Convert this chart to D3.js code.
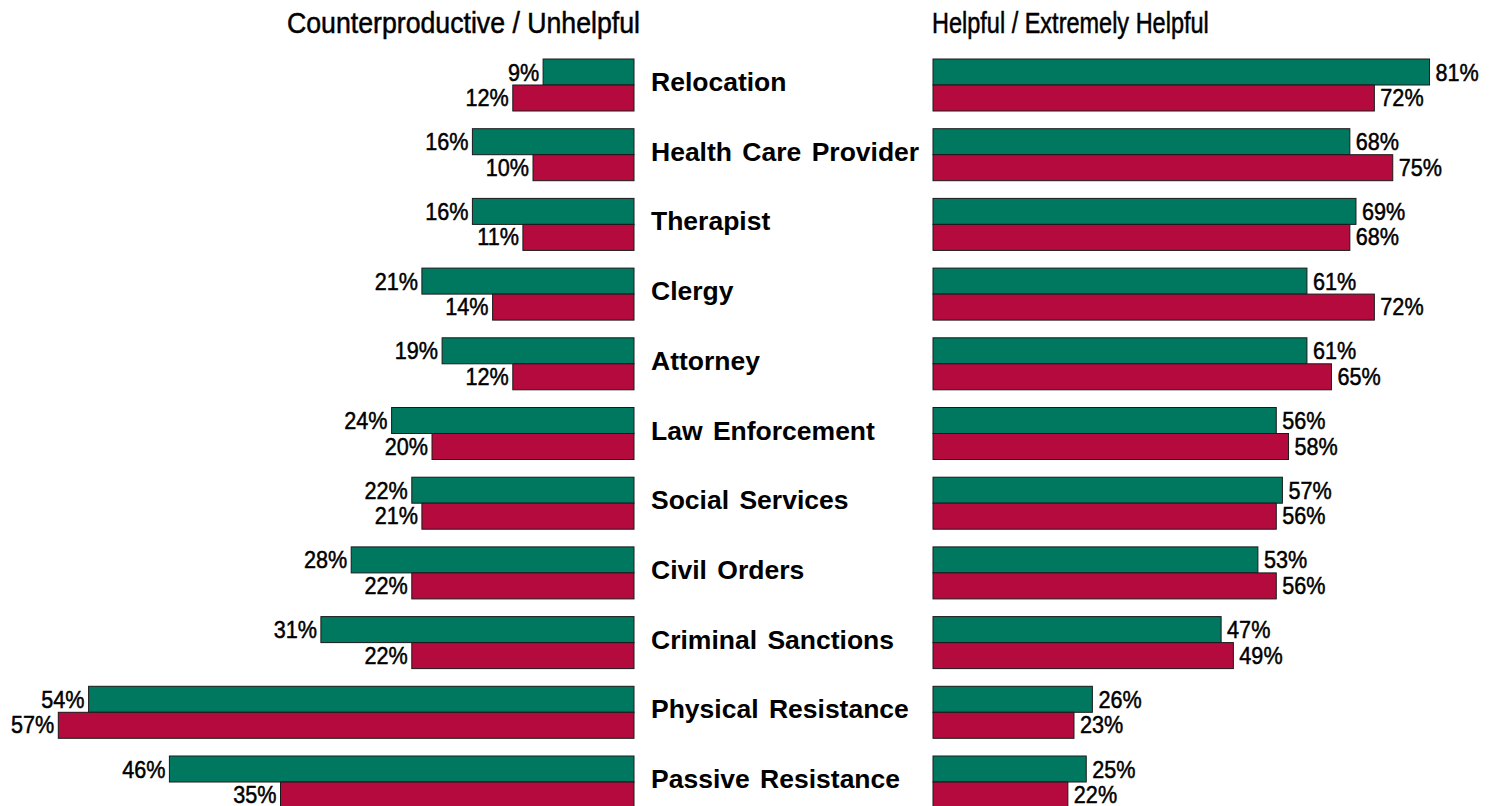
<!DOCTYPE html>
<html>
<head>
<meta charset="utf-8">
<script src="https://cdn.jsdelivr.net/npm/d3@7"></script>
<style>
  html, body { margin: 0; padding: 0; background: #fff; }
  svg { display: block; }
  .narrow { font-family: "Liberation Sans", Arial, sans-serif; stroke: #000; stroke-width: 0.5px; }
  .cat { font-family: "Liberation Sans", Arial, sans-serif; font-weight: bold; word-spacing: 3px; }
</style>
</head>
<body>
<svg id="chart" width="1497" height="806"></svg>
<script>
const categories = ["Relocation", "Health Care Provider", "Therapist", "Clergy", "Attorney",
  "Law Enforcement", "Social Services", "Civil Orders", "Criminal Sanctions",
  "Physical Resistance", "Passive Resistance"];
const unhelpfulGreen = [9, 16, 16, 21, 19, 24, 22, 28, 31, 54, 46];
const unhelpfulRed   = [12, 10, 11, 14, 12, 20, 21, 22, 22, 57, 35];
const helpfulGreen   = [81, 68, 69, 61, 61, 56, 57, 53, 47, 26, 25];
const helpfulRed     = [72, 75, 68, 72, 65, 58, 56, 56, 49, 23, 22];
const titles = ["Counterproductive / Unhelpful", "Helpful / Extremely Helpful"];

const GREEN = "#00785F", RED = "#B50A3E", STROKE = "#1a1a1a";
const svg = d3.select("#chart");

const y = d3.scalePoint().domain(categories).range([59, 756]);
const barH = 26;
const xL = d3.scaleLinear().domain([0, 100]).range([634, 634 - 1010]);
const xR = d3.scaleLinear().domain([0, 100]).range([933, 933 + 613]);

// compress glyphs horizontally to emulate a condensed face
function narrowize(factor) {
  return sel => sel.each(function () {
    const len = this.getComputedTextLength();
    d3.select(this).attr("textLength", len * factor).attr("lengthAdjust", "spacingAndGlyphs");
  });
}

// titles
svg.append("text").attr("class", "narrow").attr("x", 287).attr("y", 33)
  .attr("font-size", 29).attr("fill", "#000").text(titles[0]).call(narrowize(0.92));
svg.append("text").attr("class", "narrow").attr("x", 932).attr("y", 33)
  .attr("font-size", 29).attr("fill", "#000").text(titles[1]).call(narrowize(0.81));

const rows = categories.map((c, i) => ({
  cat: c, lg: unhelpfulGreen[i], lr: unhelpfulRed[i], rg: helpfulGreen[i], rr: helpfulRed[i]
}));

const g = svg.selectAll("g.row").data(rows).join("g").attr("class", "row");

// left bars
g.append("rect").attr("x", d => xL(d.lg)).attr("y", d => y(d.cat))
  .attr("width", d => xL(0) - xL(d.lg)).attr("height", barH)
  .attr("fill", GREEN).attr("stroke", STROKE).attr("stroke-width", 1);
g.append("rect").attr("x", d => xL(d.lr)).attr("y", d => y(d.cat) + barH)
  .attr("width", d => xL(0) - xL(d.lr)).attr("height", barH)
  .attr("fill", RED).attr("stroke", STROKE).attr("stroke-width", 1);

// right bars
g.append("rect").attr("x", xR(0)).attr("y", d => y(d.cat))
  .attr("width", d => xR(d.rg) - xR(0)).attr("height", barH)
  .attr("fill", GREEN).attr("stroke", STROKE).attr("stroke-width", 1);
g.append("rect").attr("x", xR(0)).attr("y", d => y(d.cat) + barH)
  .attr("width", d => xR(d.rr) - xR(0)).attr("height", barH)
  .attr("fill", RED).attr("stroke", STROKE).attr("stroke-width", 1);

// value labels
const FS = 24;
const lab = (sel, xf, yoff, anchor) => sel.append("text").attr("class", "narrow")
  .attr("x", xf).attr("y", d => y(d.cat) + yoff + FS * 0.358)
  .attr("text-anchor", anchor)
  .attr("font-size", FS).attr("fill", "#000");

lab(g, d => xL(d.lg) - 4, barH / 2, "end").text(d => d.lg + "%").call(narrowize(0.9));
lab(g, d => xL(d.lr) - 4, barH * 1.5 - 0.5, "end").text(d => d.lr + "%").call(narrowize(0.9));
lab(g, d => xR(d.rg) + 6, barH / 2, "start").text(d => d.rg + "%").call(narrowize(0.9));
lab(g, d => xR(d.rr) + 6, barH * 1.5 - 0.5, "start").text(d => d.rr + "%").call(narrowize(0.9));

// category labels
g.append("text").attr("class", "cat").attr("x", 651).attr("y", d => y(d.cat) + 32)
  .attr("font-size", 26.5).attr("fill", "#000")
  .text(d => d.cat);
</script>
</body>
</html>
